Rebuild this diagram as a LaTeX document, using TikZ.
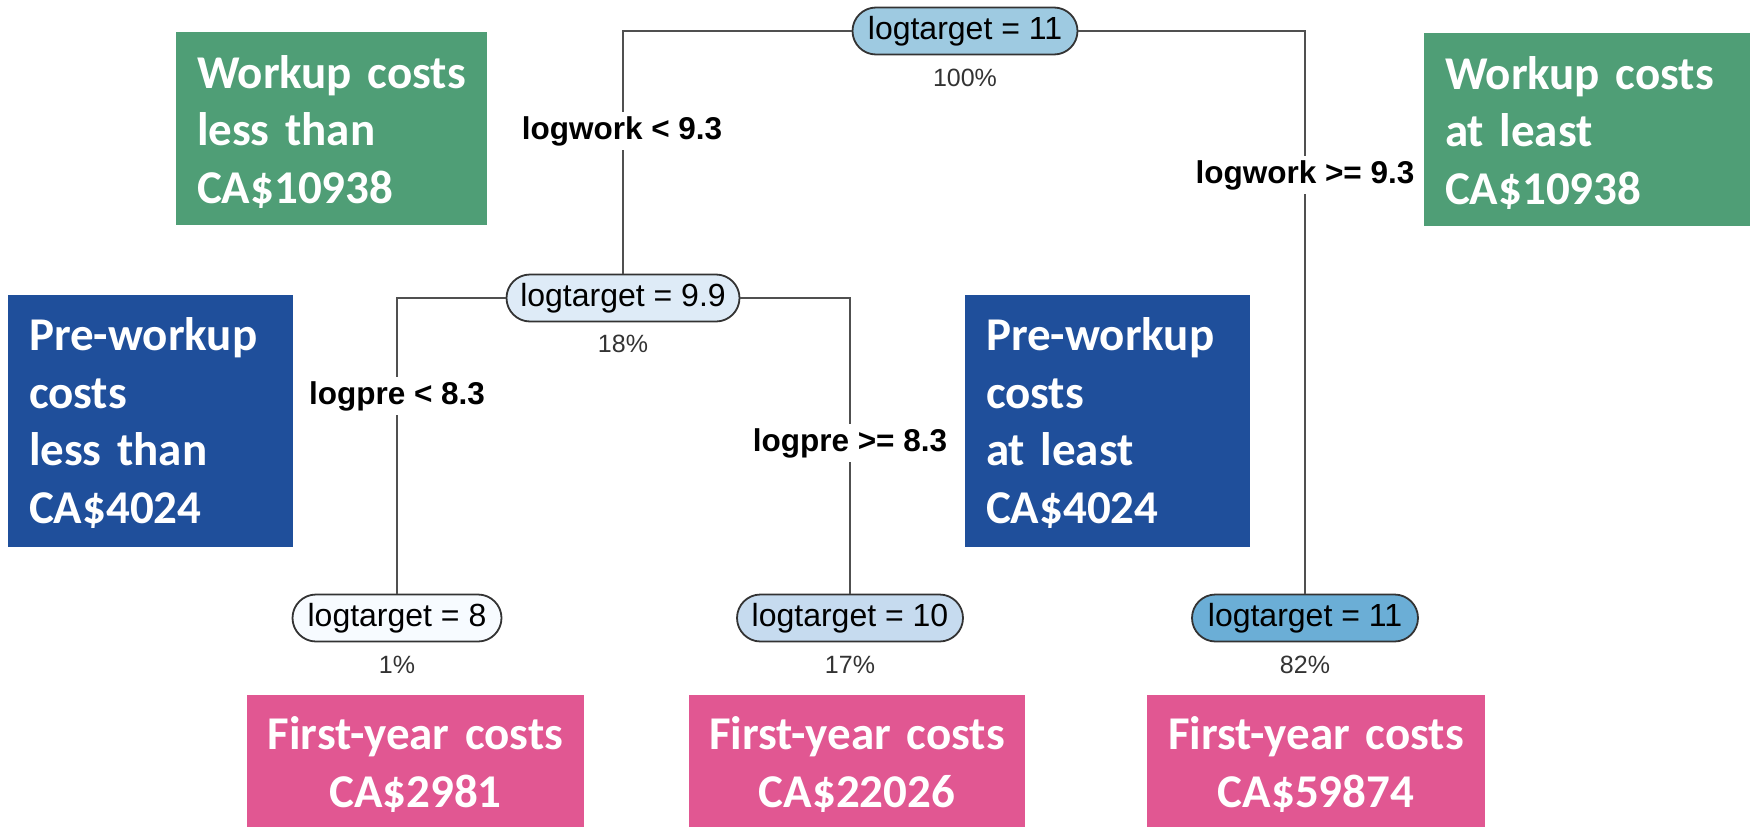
\documentclass[tikz,border=0pt]{standalone}
\usepackage{fontspec}
\setmainfont{Liberation Sans}
\newfontfamily\calfont{Carlito}
\definecolor{treeline}{HTML}{505050}
\definecolor{pillborder}{HTML}{333333}
\definecolor{blueA}{HTML}{9ECAE1}
\definecolor{blueB}{HTML}{DEEBF7}
\definecolor{blueC}{HTML}{F7FBFF}
\definecolor{blueD}{HTML}{C6DBEF}
\definecolor{blueE}{HTML}{6BAED6}
\definecolor{notegreen}{HTML}{4F9E76}
\definecolor{noteblue}{HTML}{1F4F9B}
\definecolor{notepink}{HTML}{E15792}
\definecolor{pcttext}{HTML}{333333}
% tall first-line strut to push box text down a little
\newcommand{\toprule}[1]{\rule{0pt}{#1}}
\begin{document}
\begin{tikzpicture}[x=1pt,y=-1pt,
  pill/.style={draw=pillborder, line width=1.8pt, rounded corners=23.5pt,
    minimum height=47pt, inner sep=0pt, font=\fontsize{32}{36}\selectfont},
  pct/.style={text=pcttext, inner sep=0pt, font=\fontsize{25}{30}\selectfont},
  branch/.style={draw=treeline, line width=2pt},
  split/.style={fill=white, inner sep=4pt, font=\bfseries\fontsize{31.5}{36}\selectfont},
  note/.style={inner xsep=21pt, inner ysep=0pt, text=white, align=left,
    font=\calfont\bfseries\fontsize{47}{57.5}\selectfont},
  cost/.style={inner xsep=8pt, inner ysep=0pt, text=white, align=center,
    fill=notepink, font=\calfont\bfseries\fontsize{47}{57.5}\selectfont}
]
\useasboundingbox (0,0) rectangle (1750,827);

% explanatory boxes
\node[note, fill=notegreen, text width=269pt, minimum height=193pt] (wlow) at (331.5,128.5)
  {\toprule{40pt}Workup costs\\less than\\CA\$10938};
\node[note, fill=notegreen, text width=284pt, minimum height=193pt] (whigh) at (1587,129.5)
  {\toprule{40pt}Workup costs\\at least\\CA\$10938};
\node[note, fill=noteblue, text width=243pt, minimum height=252pt] (plow) at (150.5,421)
  {\toprule{37pt}Pre-workup\\costs\\less than\\CA\$4024};
\node[note, fill=noteblue, text width=243pt, minimum height=252pt] (phigh) at (1107.5,421)
  {\toprule{37pt}Pre-workup\\costs\\at least\\CA\$4024};
\node[cost, text width=321pt, minimum height=132pt] (cL) at (415.5,761)
  {\toprule{40pt}First-year costs\\CA\$2981};
\node[cost, text width=320pt, minimum height=132pt] (cM) at (857,761)
  {\toprule{40pt}First-year costs\\CA\$22026};
\node[cost, text width=322pt, minimum height=132pt] (cR) at (1316,761)
  {\toprule{40pt}First-year costs\\CA\$59874};

% tree nodes
\node[pill, fill=blueA, minimum width=225pt] (root) at (965,31) {logtarget = 11};
\node[pill, fill=blueB, minimum width=233pt] (mid) at (623,298) {logtarget = 9.9};
\node[pill, fill=blueC, minimum width=209pt] (leafL) at (397,618) {logtarget = 8};
\node[pill, fill=blueD, minimum width=226pt] (leafM) at (850,618) {logtarget = 10};
\node[pill, fill=blueE, minimum width=226pt] (leafR) at (1305,618) {logtarget = 11};

\node[pct] (proot) at (965,78) {100\%};
\node[pct] (pmid) at (623,344) {18\%};
\node[pct] (pL) at (397,665) {1\%};
\node[pct] (pM) at (850,665) {17\%};
\node[pct] (pR) at (1305,665) {82\%};

% branches
\draw[branch] (root.west) -| (mid.north);
\draw[branch] (root.east) -| (leafR.north);
\draw[branch] (mid.west) -| (leafL.north);
\draw[branch] (mid.east) -| (leafM.north);

% split labels
\node[split] (s1) at (622,131) {logwork < 9.3};
\node[split] (s2) at (1305,175) {logwork >= 9.3};
\node[split] (s3) at (397,396) {logpre < 8.3};
\node[split] (s4) at (850,443) {logpre >= 8.3};
\end{tikzpicture}
\end{document}
